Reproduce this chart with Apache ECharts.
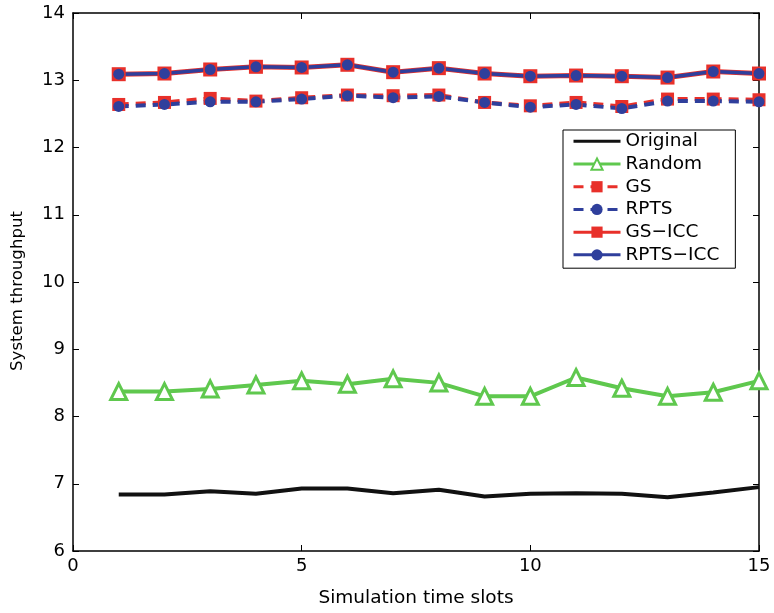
<!DOCTYPE html>
<html><head><meta charset="utf-8">
<script src="https://cdn.jsdelivr.net/npm/echarts@6/dist/echarts.min.js"></script>
<style>html,body{margin:0;padding:0;background:#fff}#c{width:774px;height:613px}</style>
</head><body><div id="c"></div>
<script>
const slots = [1,2,3,4,5,6,7,8,9,10,11,12,13,14,15];
const original = [6.84,6.84,6.89,6.85,6.93,6.93,6.86,6.91,6.81,6.85,6.86,6.85,6.80,6.87,6.95];
const random = [8.37,8.37,8.41,8.47,8.53,8.48,8.56,8.50,8.30,8.30,8.58,8.42,8.30,8.36,8.53];
const gs = [12.64,12.67,12.73,12.69,12.74,12.78,12.77,12.78,12.67,12.62,12.67,12.61,12.72,12.72,12.71];
const rpts = [12.61,12.64,12.68,12.68,12.72,12.77,12.74,12.76,12.67,12.60,12.64,12.58,12.69,12.69,12.68];
const gsIcc = [13.09,13.10,13.16,13.20,13.19,13.23,13.12,13.18,13.10,13.06,13.07,13.06,13.04,13.13,13.10];
const rptsIcc = [13.09,13.10,13.16,13.20,13.19,13.23,13.12,13.18,13.10,13.06,13.07,13.06,13.04,13.13,13.10];
const xTicks = [0,5,10,15];
const yTicks = [6,7,8,9,10,11,12,13,14];

const pair = a => slots.map((x,i)=>[x,a[i]]);
const font = 'DejaVu Sans, Liberation Sans, sans-serif';
const RED = '#e8302a', BLUE = '#2f3f9c', GREEN = '#5fc84e';

const axisCommon = {
  axisLine:{show:true,onZero:false,lineStyle:{color:'#000',width:1.5}},
  axisTick:{show:true,inside:true,length:6,lineStyle:{color:'#000',width:1}},
  splitLine:{show:false}
};
const chart = echarts.init(document.getElementById('c'));
chart.setOption({
  animation:false,
  backgroundColor:'#fff',
  grid:{left:73,right:15,top:13,bottom:60},
  legend:{
    orient:'vertical', left:563, top:130,
    backgroundColor:'#fff', borderColor:'#000', borderWidth:1,
    padding:[0,16,2,9], itemGap:0, itemWidth:47, itemHeight:14,
    lineStyle:{width:3},
    textStyle:{fontFamily:font,fontSize:18.5,lineHeight:22.7,color:'#000'},
    data:['Original','Random','GS','RPTS','GS\u2212ICC','RPTS\u2212ICC']
  },
  xAxis:[
    Object.assign({type:'value',min:0,max:15,interval:5,position:'bottom',
      name:'Simulation time slots',nameLocation:'middle',nameGap:38,
      nameTextStyle:{fontFamily:font,fontSize:18.5,color:'#000'},
      axisLabel:{fontFamily:font,fontSize:18,color:'#000',margin:6}},axisCommon),
    Object.assign({type:'value',min:0,max:15,interval:5,position:'top',axisLabel:{show:false}},axisCommon)
  ],
  yAxis:[
    Object.assign({type:'value',min:6,max:14,interval:1,position:'left',
      name:'System throughput',nameLocation:'middle',nameGap:47,
      nameTextStyle:{fontFamily:font,fontSize:16.6,color:'#000',padding:[0,18,0,0]},
      axisLabel:{fontFamily:font,fontSize:18,color:'#000',margin:8}},axisCommon),
    Object.assign({type:'value',min:6,max:14,interval:1,position:'right',axisLabel:{show:false}},axisCommon)
  ],
  series:[
    {name:'Original',type:'line',data:pair(original),symbol:'none',
      lineStyle:{color:'#111',width:4},itemStyle:{color:'rgba(0,0,0,0)'}},
    {name:'Random',type:'line',data:pair(random),symbol:'triangle',symbolSize:16,
      lineStyle:{color:GREEN,width:4},itemStyle:{color:'#fff',borderColor:GREEN,borderWidth:3}},
    {name:'GS',type:'line',data:pair(gs),symbol:'rect',symbolSize:13,
      lineStyle:{color:RED,width:4,type:[10,7]},itemStyle:{color:RED}},
    {name:'RPTS',type:'line',data:pair(rpts),symbol:'circle',symbolSize:11,
      lineStyle:{color:BLUE,width:4,type:[10,7]},itemStyle:{color:BLUE}},
    {name:'GS\u2212ICC',type:'line',data:pair(gsIcc),symbol:'rect',symbolSize:14,
      lineStyle:{color:RED,width:5},itemStyle:{color:RED}},
    {name:'RPTS\u2212ICC',type:'line',data:pair(rptsIcc),symbol:'circle',symbolSize:11,
      lineStyle:{color:BLUE,width:3.5},itemStyle:{color:BLUE}}
  ]
});
</script></body></html>
